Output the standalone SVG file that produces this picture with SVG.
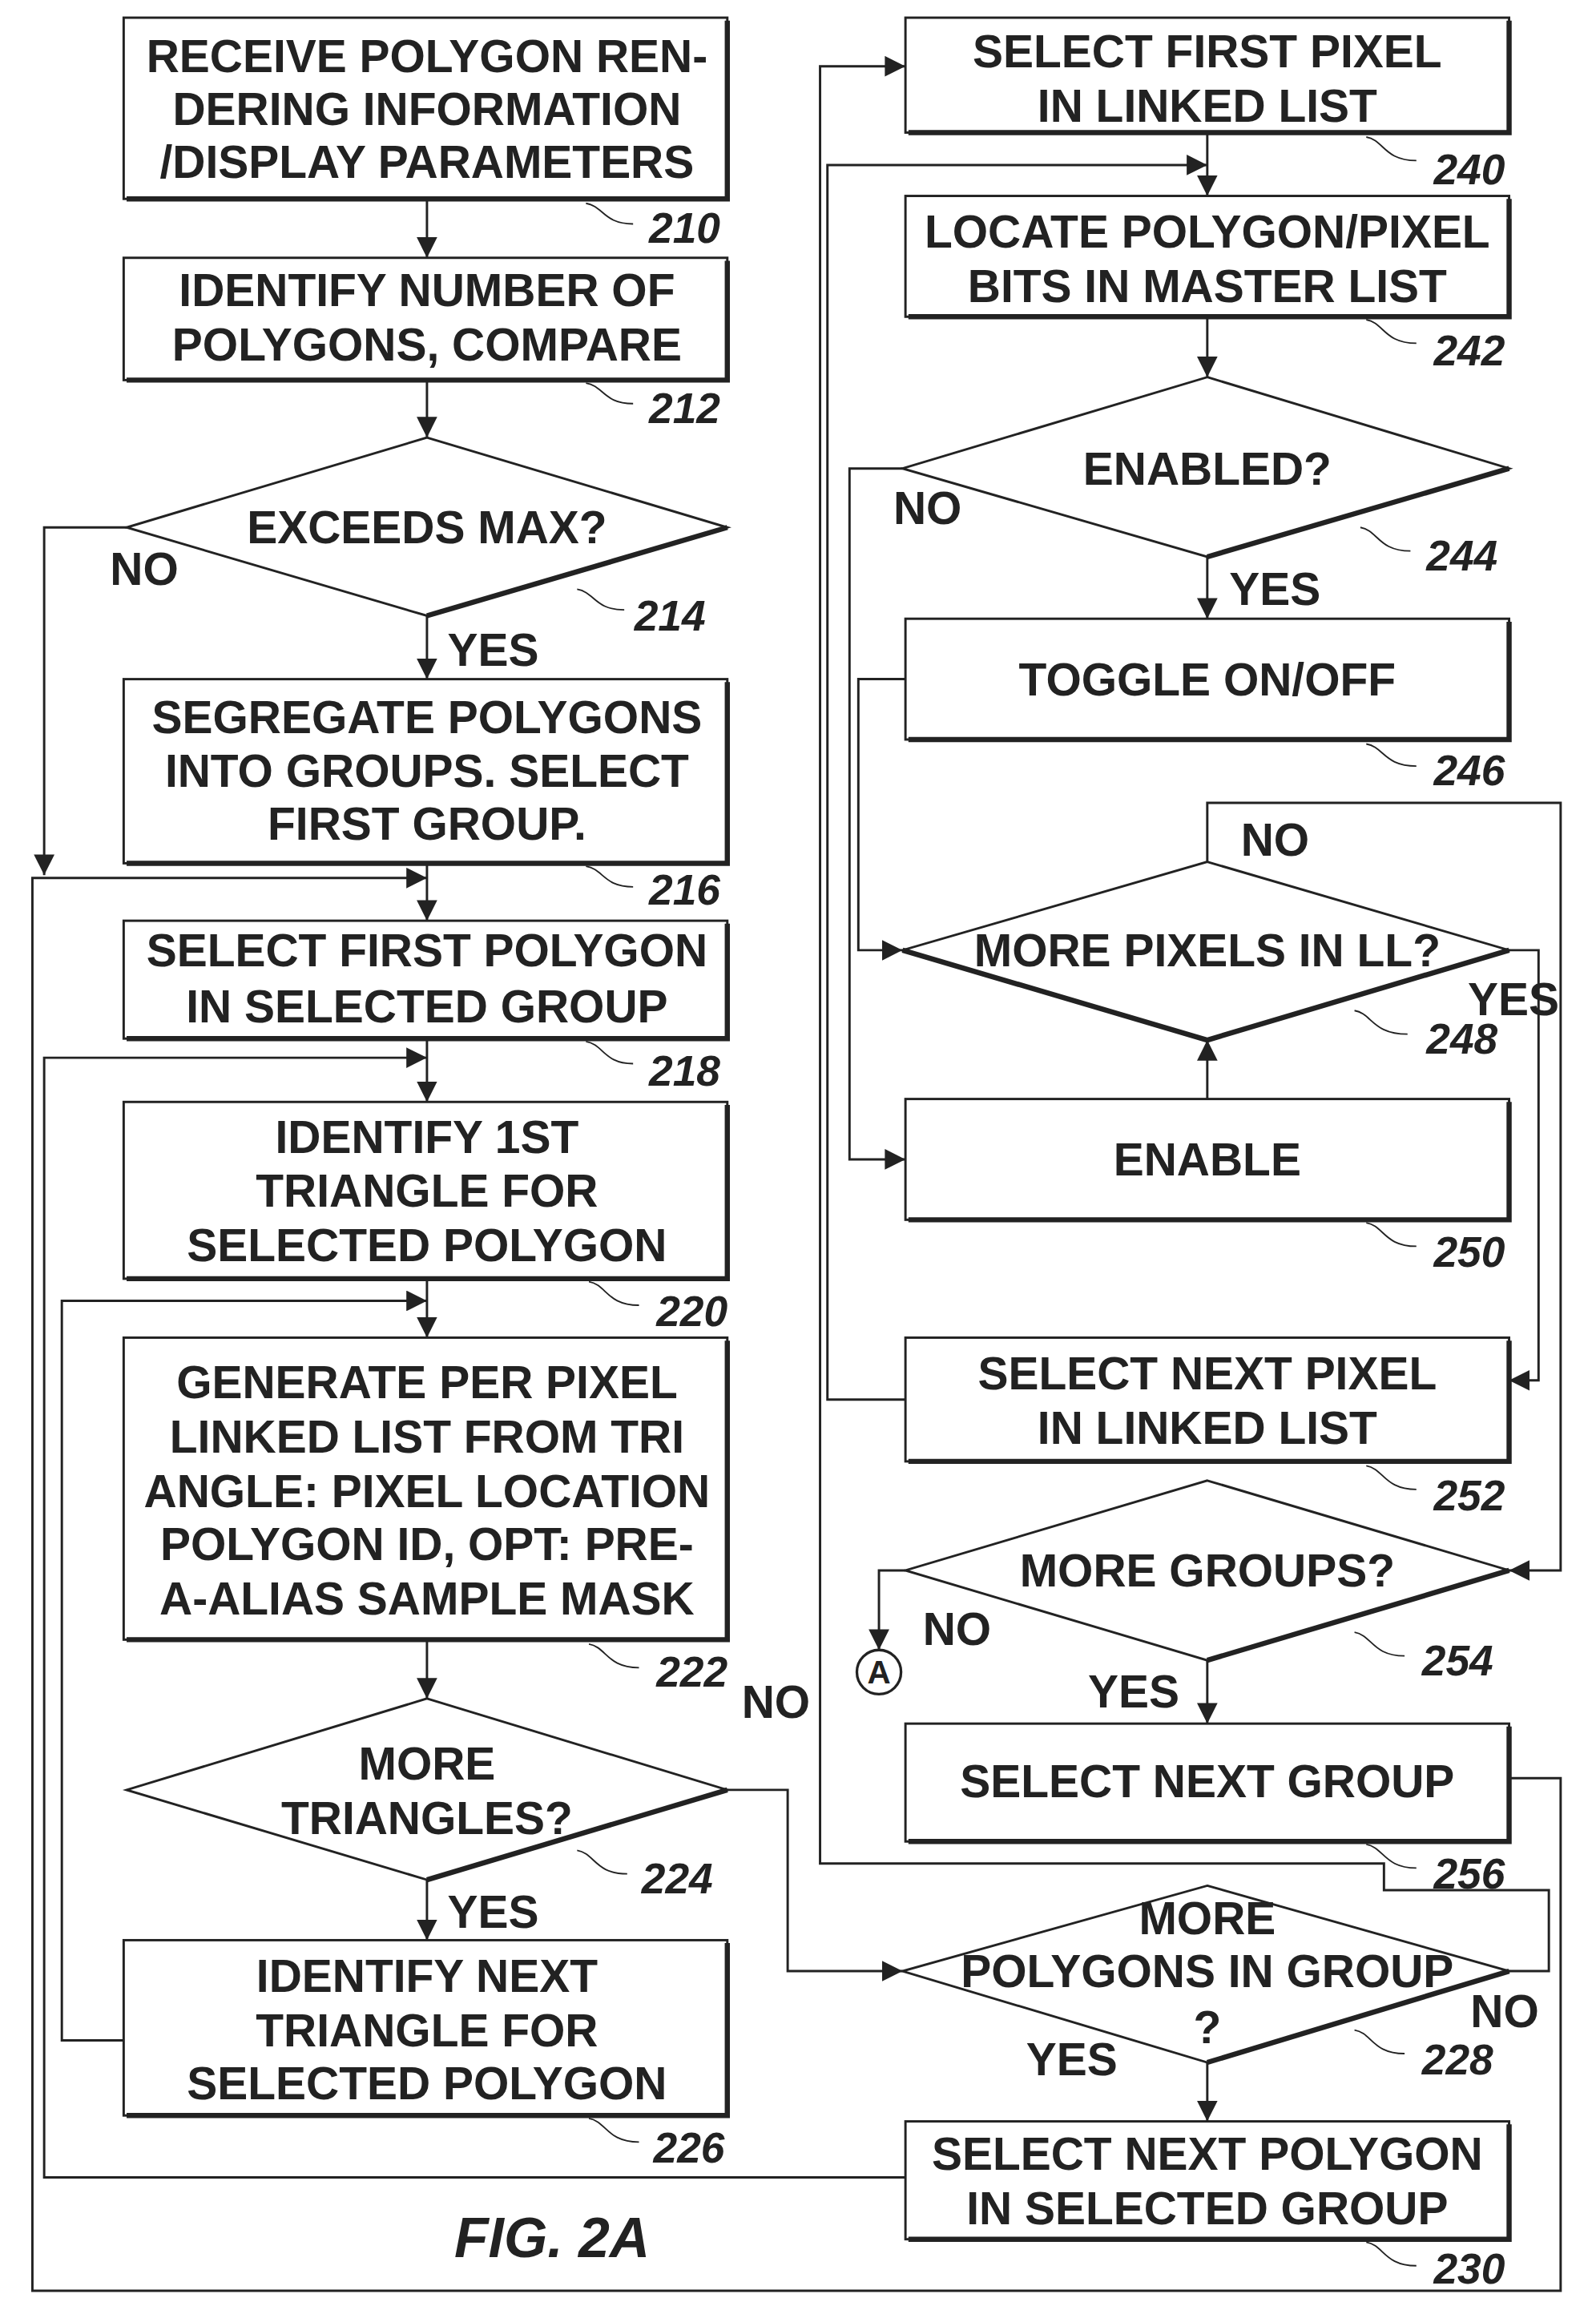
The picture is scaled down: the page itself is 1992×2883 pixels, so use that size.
<svg xmlns="http://www.w3.org/2000/svg" width="1992" height="2883" viewBox="0 0 1992 2883">
<defs>
<style>
text{font-family:"Liberation Sans",Arial,sans-serif;font-weight:bold;fill:#222}
.t{font-size:31px;text-anchor:middle;dominant-baseline:central}
.r{font-size:29px;font-style:italic;text-anchor:middle;dominant-baseline:central}
.b{fill:#fff;stroke:#222;stroke-width:1.6}
.s{fill:none;stroke:#222;stroke-width:3.5}
.c{fill:none;stroke:#222;stroke-width:1.6}
.l{fill:none;stroke:#222;stroke-width:1}
</style>
<marker id="a" viewBox="0 0 10 10" refX="10" refY="5" markerWidth="14" markerHeight="14" markerUnits="userSpaceOnUse" orient="auto"><path d="M0,0L10,5L0,10z" fill="#222"/></marker>
</defs>
<rect width="1992" height="2883" fill="#fff"/>
<g transform="scale(1.8376,1.8386)">
<g id="connectors" class="c">
<path d="M290,135V175" marker-end="url(#a)"/>
<path d="M290,258V297" marker-end="url(#a)"/>
<path d="M290,418V461" marker-end="url(#a)"/>
<path d="M86,358H30V594" marker-end="url(#a)"/>
<path d="M1025,1207H1060V1555H22V596H290" marker-end="url(#a)"/>
<path d="M290,586V625" marker-end="url(#a)"/>
<path d="M615,1478H30V718H290" marker-end="url(#a)"/>
<path d="M290,705V748" marker-end="url(#a)"/>
<path d="M84,1385H42V883H290" marker-end="url(#a)"/>
<path d="M290,868V908" marker-end="url(#a)"/>
<path d="M290,1113V1153" marker-end="url(#a)"/>
<path d="M290,1276V1317" marker-end="url(#a)"/>
<path d="M494,1215H535V1338H613" marker-end="url(#a)"/>
<path d="M820,1400V1440" marker-end="url(#a)"/>
<path d="M1025,1338H1052V1283H940V1265H557V45H615" marker-end="url(#a)"/>
<path d="M820,90V133" marker-end="url(#a)"/>
<path d="M615,950H562V112H820" marker-end="url(#a)"/>
<path d="M820,215V256" marker-end="url(#a)"/>
<path d="M820,378V420" marker-end="url(#a)"/>
<path d="M615,461H583V645H613" marker-end="url(#a)"/>
<path d="M613,318H577V787H615" marker-end="url(#a)"/>
<path d="M820,746V706" marker-end="url(#a)"/>
<path d="M820,585V545H1060V1066H1025" marker-end="url(#a)"/>
<path d="M1025,645H1045V937H1025" marker-end="url(#a)"/>
<path d="M615,1066H597V1120" marker-end="url(#a)"/>
<path d="M820,1127V1170" marker-end="url(#a)"/>
</g>
<g id="leaders" class="l">
<path d="M398,138C410,140 410,152 430,152"/><path d="M398,260C410,262 410,274 430,274"/>
<path d="M392,400C404,402 404,414 424,414"/><path d="M398,588C410,590 410,602 430,602"/>
<path d="M398,707C410,709 410,722 430,722"/><path d="M400,870C412,872 412,886 434,886"/>
<path d="M400,1116C412,1118 412,1132 434,1132"/><path d="M392,1256C404,1258 404,1272 426,1272"/>
<path d="M400,1438C412,1440 412,1454 434,1454"/>
<path d="M928,93C940,95 940,109 962,109"/><path d="M928,217C940,219 940,233 962,233"/>
<path d="M924,358C936,360 936,374 958,374"/><path d="M928,505C940,507 940,520 962,520"/>
<path d="M920,686C932,688 932,702 956,702"/><path d="M928,830C940,832 940,846 962,846"/>
<path d="M928,995C940,997 940,1011 962,1011"/><path d="M920,1108C932,1110 932,1124 954,1124"/>
<path d="M928,1252C940,1254 940,1268 962,1268"/><path d="M920,1378C932,1380 932,1394 954,1394"/>
<path d="M928,1522C940,1524 940,1538 962,1538"/>
</g>
<g id="n210"><rect class="b" x="84" y="12" width="410" height="123"/><path class="s" d="M86,135H494V14"/><text class="t" x="290" y="38">RECEIVE POLYGON REN-</text><text class="t" x="290" y="74">DERING INFORMATION</text><text class="t" x="290" y="110">/DISPLAY PARAMETERS</text><text class="r" x="465" y="155">210</text></g>
<g id="n212"><rect class="b" x="84" y="175" width="410" height="83"/><path class="s" d="M86,258H494V177"/><text class="t" x="290" y="197">IDENTIFY NUMBER OF</text><text class="t" x="290" y="234">POLYGONS, COMPARE</text><text class="r" x="465" y="277">212</text></g>
<g id="n214"><path class="b" d="M290,297L494,358L290,418L86,358z"/><path class="s" d="M290,418L494,358"/><text class="t" x="290" y="358">EXCEEDS MAX?</text><text class="r" x="455" y="418">214</text></g>
<g id="n216"><rect class="b" x="84" y="461" width="410" height="125"/><path class="s" d="M86,586H494V463"/><text class="t" x="290" y="487">SEGREGATE POLYGONS</text><text class="t" x="290" y="523">INTO GROUPS.  SELECT</text><text class="t" x="290" y="559">FIRST GROUP.</text><text class="r" x="465" y="604">216</text></g>
<g id="n218"><rect class="b" x="84" y="625" width="410" height="80"/><path class="s" d="M86,705H494V627"/><text class="t" x="290" y="645">SELECT FIRST POLYGON</text><text class="t" x="290" y="683">IN SELECTED GROUP</text><text class="r" x="465" y="727">218</text></g>
<g id="n220"><rect class="b" x="84" y="748" width="410" height="120"/><path class="s" d="M86,868H494V750"/><text class="t" x="290" y="772">IDENTIFY 1ST</text><text class="t" x="290" y="808">TRIANGLE FOR</text><text class="t" x="290" y="845">SELECTED POLYGON</text><text class="r" x="470" y="890">220</text></g>
<g id="n222"><rect class="b" x="84" y="908" width="410" height="205"/><path class="s" d="M86,1113H494V910"/><text class="t" x="290" y="938">GENERATE PER PIXEL</text><text class="t" x="290" y="975">LINKED LIST FROM TRI</text><text class="t" x="290" y="1012">ANGLE: PIXEL LOCATION</text><text class="t" x="290" y="1048">POLYGON ID, OPT: PRE-</text><text class="t" x="290" y="1085">A-ALIAS SAMPLE MASK</text><text class="r" x="470" y="1135">222</text></g>
<g id="n224"><path class="b" d="M290,1153L494,1215L290,1276L86,1215z"/><path class="s" d="M290,1276L494,1215"/><text class="t" x="290" y="1197">MORE</text><text class="t" x="290" y="1234">TRIANGLES?</text><text class="r" x="460" y="1275">224</text></g>
<g id="n226"><rect class="b" x="84" y="1317" width="410" height="119"/><path class="s" d="M86,1436H494V1319"/><text class="t" x="290" y="1341">IDENTIFY NEXT</text><text class="t" x="290" y="1378">TRIANGLE FOR</text><text class="t" x="290" y="1414">SELECTED POLYGON</text><text class="r" x="468" y="1458">226</text></g>
<g id="n240"><rect class="b" x="615" y="12" width="410" height="78"/><path class="s" d="M617,90H1025V14"/><text class="t" x="820" y="35">SELECT FIRST PIXEL</text><text class="t" x="820" y="72">IN LINKED LIST</text><text class="r" x="998" y="115">240</text></g>
<g id="n242"><rect class="b" x="615" y="133" width="410" height="82"/><path class="s" d="M617,215H1025V135"/><text class="t" x="820" y="157">LOCATE POLYGON/PIXEL</text><text class="t" x="820" y="194">BITS IN MASTER LIST</text><text class="r" x="998" y="238">242</text></g>
<g id="n244"><path class="b" d="M820,256L1025,318L820,378L613,318z"/><path class="s" d="M820,378L1025,318"/><text class="t" x="820" y="318">ENABLED?</text><text class="r" x="993" y="377">244</text></g>
<g id="n246"><rect class="b" x="615" y="420" width="410" height="82"/><path class="s" d="M617,502H1025V422"/><text class="t" x="820" y="461">TOGGLE ON/OFF</text><text class="r" x="998" y="523">246</text></g>
<g id="n248"><path class="b" d="M820,585L1025,645L820,706L613,645z"/><path class="s" d="M820,706L1025,645M613,645L820,706"/><text class="t" x="820" y="645">MORE PIXELS IN LL?</text><text class="r" x="993" y="705">248</text></g>
<g id="n250"><rect class="b" x="615" y="746" width="410" height="82"/><path class="s" d="M617,828H1025V748"/><text class="t" x="820" y="787">ENABLE</text><text class="r" x="998" y="850">250</text></g>
<g id="n252"><rect class="b" x="615" y="908" width="410" height="84"/><path class="s" d="M617,992H1025V910"/><text class="t" x="820" y="932">SELECT NEXT PIXEL</text><text class="t" x="820" y="969">IN LINKED LIST</text><text class="r" x="998" y="1015">252</text></g>
<g id="n254"><path class="b" d="M820,1005L1025,1066L820,1127L615,1066z"/><path class="s" d="M820,1127L1025,1066"/><text class="t" x="820" y="1066">MORE GROUPS?</text><text class="r" x="990" y="1127">254</text></g>
<g id="nA"><circle cx="597" cy="1135" r="15" fill="#fff" stroke="#222" stroke-width="1.8"/><text class="t" x="597" y="1135" style="font-size:22px">A</text></g>
<g id="n256"><rect class="b" x="615" y="1170" width="410" height="80"/><path class="s" d="M617,1250H1025V1172"/><text class="t" x="820" y="1209">SELECT NEXT GROUP</text><text class="r" x="998" y="1272">256</text></g>
<g id="n228"><path class="b" d="M820,1280L1025,1338L820,1400L613,1338z"/><path class="s" d="M820,1400L1025,1338"/><text class="t" x="820" y="1302">MORE</text><text class="t" x="820" y="1338">POLYGONS IN GROUP</text><text class="t" x="820" y="1376">?</text><text class="r" x="990" y="1398">228</text></g>
<g id="n230"><rect class="b" x="615" y="1440" width="410" height="80"/><path class="s" d="M617,1520H1025V1442"/><text class="t" x="820" y="1462">SELECT NEXT POLYGON</text><text class="t" x="820" y="1499">IN SELECTED GROUP</text><text class="r" x="998" y="1540">230</text></g>
<g id="labels">
<text class="t" x="98" y="386">NO</text><text class="t" x="335" y="441">YES</text>
<text class="t" x="630" y="345">NO</text><text class="t" x="866" y="400">YES</text>
<text class="t" x="866" y="570">NO</text><text class="t" x="1028" y="678">YES</text>
<text class="t" x="650" y="1106">NO</text><text class="t" x="770" y="1148">YES</text>
<text class="t" x="527" y="1155">NO</text><text class="t" x="335" y="1298">YES</text>
<text class="t" x="1022" y="1365">NO</text><text class="t" x="728" y="1398">YES</text>
<text x="375" y="1532" style="font-size:38px;font-style:italic;text-anchor:middle">FIG. 2A</text>
</g>
</g>
</svg>
